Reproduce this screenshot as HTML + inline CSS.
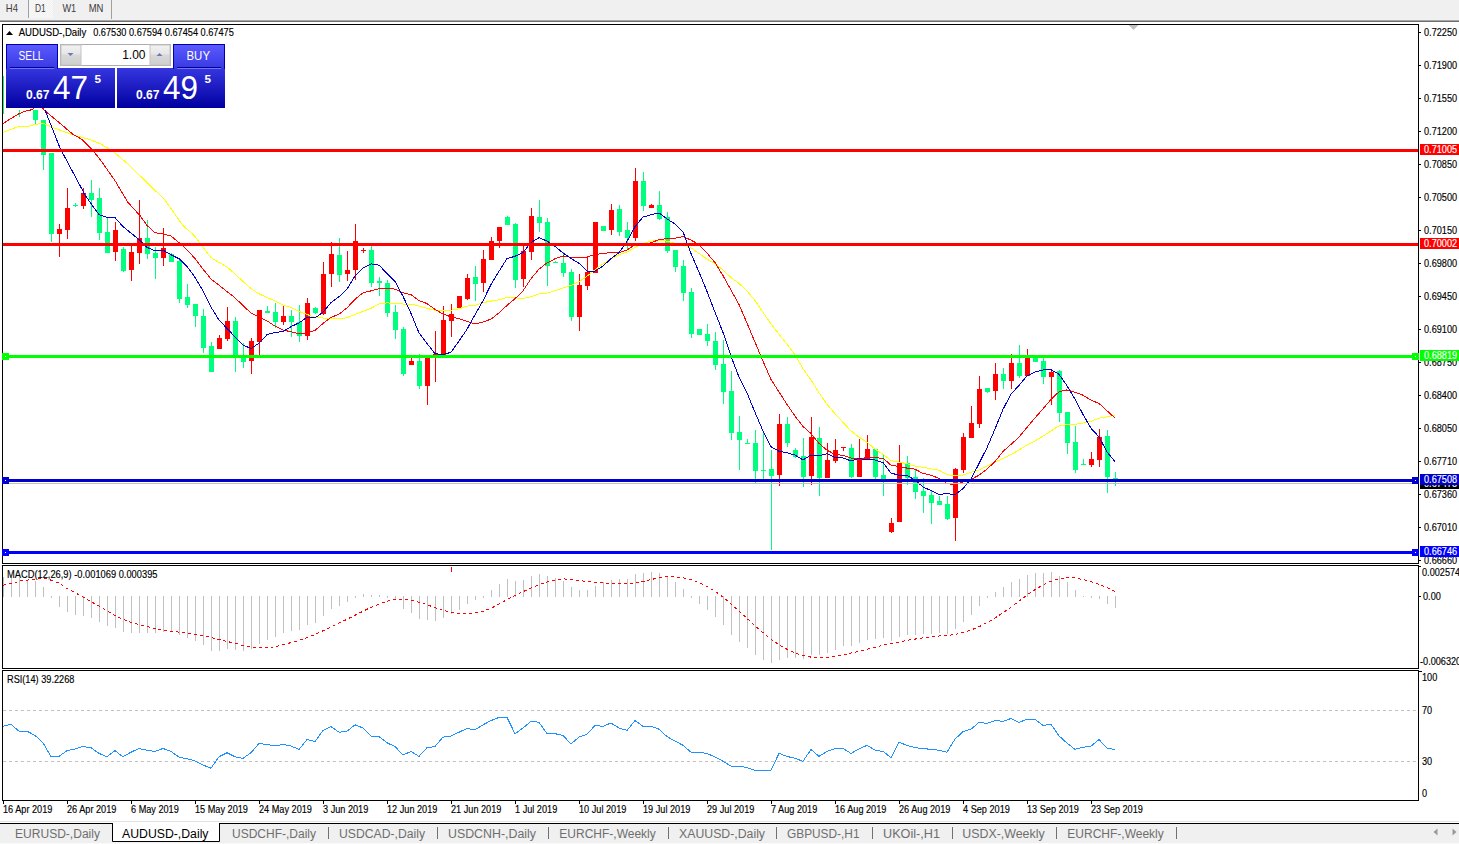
<!DOCTYPE html>
<html><head><meta charset="utf-8"><style>
html,body{margin:0;padding:0;background:#fff;width:1459px;height:844px;overflow:hidden}
svg{display:block}
text{font-family:"Liberation Sans", sans-serif}
</style></head><body>
<svg width="1459" height="844" viewBox="0 0 1459 844">
<defs>
<clipPath id="cm"><rect x="3" y="25" width="1415" height="538"/></clipPath>
<clipPath id="cmacd"><rect x="3" y="566" width="1415" height="102"/></clipPath>
<clipPath id="crsi"><rect x="3" y="671" width="1415" height="129"/></clipPath>
<linearGradient id="gTop" x1="0" y1="0" x2="0" y2="1"><stop offset="0" stop-color="#5a5aff"/><stop offset="1" stop-color="#3838e2"/></linearGradient>
<linearGradient id="gBig" x1="0" y1="0" x2="0" y2="1"><stop offset="0" stop-color="#3636e0"/><stop offset="1" stop-color="#0000a0"/></linearGradient>
<linearGradient id="gBtn" x1="0" y1="0" x2="0" y2="1"><stop offset="0" stop-color="#f2f2f2"/><stop offset="0.45" stop-color="#e6e6e6"/><stop offset="0.5" stop-color="#d8d8d8"/><stop offset="1" stop-color="#cfcfcf"/></linearGradient>
<pattern id="chk" width="2" height="2" patternUnits="userSpaceOnUse"><rect width="2" height="2" fill="#f0f0f0"/><rect width="1" height="1" fill="#fafafa"/><rect x="1" y="1" width="1" height="1" fill="#fafafa"/></pattern>
</defs>

<rect x="0" y="0" width="1459" height="20" fill="#f0f0f0"/>
<rect x="0" y="20" width="1459" height="1" fill="#a8a8a8"/><rect x="0" y="21" width="1459" height="1" fill="#6e6e6e"/>
<rect x="28" y="0" width="1" height="18" fill="#a0a0a0"/><rect x="111" y="0" width="1" height="19" fill="#a0a0a0"/>
<rect x="29" y="0" width="24" height="18" fill="url(#chk)"/>
<text x="5.8" y="12.2" font-size="10.3" fill="#3c3c3c" textLength="12.1" lengthAdjust="spacingAndGlyphs">H4</text>
<text x="35" y="12.2" font-size="10.3" fill="#3c3c3c" textLength="10.8" lengthAdjust="spacingAndGlyphs">D1</text>
<text x="62.4" y="12.2" font-size="10.3" fill="#3c3c3c" textLength="13.8" lengthAdjust="spacingAndGlyphs">W1</text>
<text x="88.7" y="12.2" font-size="10.3" fill="#3c3c3c" textLength="14.7" lengthAdjust="spacingAndGlyphs">MN</text>
<rect x="2.5" y="24.5" width="1416" height="539" fill="#fff" stroke="#000" stroke-width="1"/>
<rect x="2.5" y="565.5" width="1416" height="103" fill="#fff" stroke="#000" stroke-width="1"/>
<rect x="2.5" y="670.5" width="1416" height="130" fill="#fff" stroke="#000" stroke-width="1"/>
<g clip-path="url(#cm)">
<rect x="3" y="76" width="1" height="38" fill="#00ff7f"/>
<rect x="19" y="110" width="1" height="7" fill="#00ff7f"/>
<rect x="35" y="110" width="1" height="14" fill="#00ff7f"/>
<rect x="33" y="110" width="5" height="10" fill="#00ff7f"/>
<rect x="43" y="120" width="1" height="50" fill="#00ff7f"/>
<rect x="41" y="120" width="5" height="35" fill="#00ff7f"/>
<rect x="51" y="153" width="1" height="89" fill="#00ff7f"/>
<rect x="49" y="153" width="5" height="81" fill="#00ff7f"/>
<rect x="59" y="224" width="1" height="33" fill="#ff0000"/>
<rect x="57" y="229" width="5" height="5" fill="#ff0000"/>
<rect x="67" y="188" width="1" height="51" fill="#ff0000"/>
<rect x="65" y="208" width="5" height="22" fill="#ff0000"/>
<rect x="75" y="203" width="1" height="4" fill="#00ff7f"/>
<rect x="73" y="205" width="5" height="1" fill="#00ff7f"/>
<rect x="83" y="188" width="1" height="21" fill="#ff0000"/>
<rect x="81" y="193" width="5" height="13" fill="#ff0000"/>
<rect x="91" y="180" width="1" height="37" fill="#00ff7f"/>
<rect x="89" y="193" width="5" height="7" fill="#00ff7f"/>
<rect x="99" y="188" width="1" height="52" fill="#00ff7f"/>
<rect x="97" y="198" width="5" height="35" fill="#00ff7f"/>
<rect x="107" y="217" width="1" height="36" fill="#00ff7f"/>
<rect x="105" y="232" width="5" height="21" fill="#00ff7f"/>
<rect x="115" y="222" width="1" height="39" fill="#ff0000"/>
<rect x="113" y="230" width="5" height="22" fill="#ff0000"/>
<rect x="123" y="247" width="1" height="25" fill="#00ff7f"/>
<rect x="121" y="249" width="5" height="22" fill="#00ff7f"/>
<rect x="131" y="246" width="1" height="35" fill="#ff0000"/>
<rect x="129" y="252" width="5" height="18" fill="#ff0000"/>
<rect x="139" y="200" width="1" height="64" fill="#ff0000"/>
<rect x="137" y="238" width="5" height="15" fill="#ff0000"/>
<rect x="147" y="220" width="1" height="39" fill="#00ff7f"/>
<rect x="145" y="238" width="5" height="16" fill="#00ff7f"/>
<rect x="155" y="247" width="1" height="32" fill="#00ff7f"/>
<rect x="153" y="253" width="5" height="5" fill="#00ff7f"/>
<rect x="163" y="228" width="1" height="38" fill="#ff0000"/>
<rect x="161" y="248" width="5" height="10" fill="#ff0000"/>
<rect x="171" y="253" width="1" height="9" fill="#00ff7f"/>
<rect x="169" y="254" width="5" height="8" fill="#00ff7f"/>
<rect x="179" y="259" width="1" height="44" fill="#00ff7f"/>
<rect x="177" y="261" width="5" height="38" fill="#00ff7f"/>
<rect x="187" y="284" width="1" height="24" fill="#00ff7f"/>
<rect x="185" y="297" width="5" height="8" fill="#00ff7f"/>
<rect x="195" y="304" width="1" height="23" fill="#00ff7f"/>
<rect x="193" y="304" width="5" height="12" fill="#00ff7f"/>
<rect x="203" y="309" width="1" height="44" fill="#00ff7f"/>
<rect x="201" y="316" width="5" height="32" fill="#00ff7f"/>
<rect x="211" y="342" width="1" height="30" fill="#00ff7f"/>
<rect x="209" y="346" width="5" height="26" fill="#00ff7f"/>
<rect x="219" y="335" width="1" height="14" fill="#ff0000"/>
<rect x="217" y="338" width="5" height="11" fill="#ff0000"/>
<rect x="227" y="307" width="1" height="34" fill="#ff0000"/>
<rect x="225" y="321" width="5" height="18" fill="#ff0000"/>
<rect x="235" y="317" width="1" height="55" fill="#00ff7f"/>
<rect x="233" y="321" width="5" height="37" fill="#00ff7f"/>
<rect x="243" y="343" width="1" height="25" fill="#00ff7f"/>
<rect x="241" y="357" width="5" height="5" fill="#00ff7f"/>
<rect x="251" y="338" width="1" height="36" fill="#ff0000"/>
<rect x="249" y="341" width="5" height="20" fill="#ff0000"/>
<rect x="259" y="310" width="1" height="45" fill="#ff0000"/>
<rect x="257" y="310" width="5" height="32" fill="#ff0000"/>
<rect x="267" y="306" width="1" height="7" fill="#00ff7f"/>
<rect x="265" y="311" width="5" height="2" fill="#00ff7f"/>
<rect x="275" y="303" width="1" height="25" fill="#00ff7f"/>
<rect x="273" y="312" width="5" height="10" fill="#00ff7f"/>
<rect x="283" y="306" width="1" height="19" fill="#ff0000"/>
<rect x="281" y="316" width="5" height="6" fill="#ff0000"/>
<rect x="291" y="310" width="1" height="27" fill="#00ff7f"/>
<rect x="289" y="316" width="5" height="6" fill="#00ff7f"/>
<rect x="299" y="305" width="1" height="37" fill="#00ff7f"/>
<rect x="297" y="322" width="5" height="14" fill="#00ff7f"/>
<rect x="307" y="298" width="1" height="42" fill="#ff0000"/>
<rect x="305" y="303" width="5" height="33" fill="#ff0000"/>
<rect x="315" y="307" width="1" height="7" fill="#00ff7f"/>
<rect x="313" y="308" width="5" height="5" fill="#00ff7f"/>
<rect x="323" y="262" width="1" height="53" fill="#ff0000"/>
<rect x="321" y="274" width="5" height="40" fill="#ff0000"/>
<rect x="331" y="242" width="1" height="45" fill="#ff0000"/>
<rect x="329" y="254" width="5" height="20" fill="#ff0000"/>
<rect x="339" y="238" width="1" height="44" fill="#00ff7f"/>
<rect x="337" y="255" width="5" height="20" fill="#00ff7f"/>
<rect x="347" y="251" width="1" height="30" fill="#ff0000"/>
<rect x="345" y="270" width="5" height="4" fill="#ff0000"/>
<rect x="355" y="224" width="1" height="56" fill="#ff0000"/>
<rect x="353" y="241" width="5" height="29" fill="#ff0000"/>
<rect x="363" y="248" width="1" height="5" fill="#ff0000"/>
<rect x="361" y="250" width="5" height="1" fill="#ff0000"/>
<rect x="371" y="246" width="1" height="41" fill="#00ff7f"/>
<rect x="369" y="250" width="5" height="33" fill="#00ff7f"/>
<rect x="379" y="277" width="1" height="19" fill="#00ff7f"/>
<rect x="377" y="281" width="5" height="2" fill="#00ff7f"/>
<rect x="387" y="280" width="1" height="37" fill="#00ff7f"/>
<rect x="385" y="283" width="5" height="30" fill="#00ff7f"/>
<rect x="395" y="305" width="1" height="34" fill="#00ff7f"/>
<rect x="393" y="312" width="5" height="18" fill="#00ff7f"/>
<rect x="403" y="327" width="1" height="49" fill="#00ff7f"/>
<rect x="401" y="329" width="5" height="45" fill="#00ff7f"/>
<rect x="411" y="358" width="1" height="7" fill="#ff0000"/>
<rect x="409" y="361" width="5" height="4" fill="#ff0000"/>
<rect x="419" y="354" width="1" height="35" fill="#00ff7f"/>
<rect x="417" y="361" width="5" height="25" fill="#00ff7f"/>
<rect x="427" y="357" width="1" height="48" fill="#ff0000"/>
<rect x="425" y="357" width="5" height="29" fill="#ff0000"/>
<rect x="435" y="331" width="1" height="51" fill="#ff0000"/>
<rect x="433" y="354" width="5" height="1" fill="#ff0000"/>
<rect x="443" y="306" width="1" height="52" fill="#ff0000"/>
<rect x="441" y="320" width="5" height="35" fill="#ff0000"/>
<rect x="451" y="304" width="1" height="33" fill="#ff0000"/>
<rect x="449" y="314" width="5" height="7" fill="#ff0000"/>
<rect x="459" y="296" width="1" height="12" fill="#ff0000"/>
<rect x="457" y="296" width="5" height="12" fill="#ff0000"/>
<rect x="467" y="274" width="1" height="26" fill="#ff0000"/>
<rect x="465" y="278" width="5" height="21" fill="#ff0000"/>
<rect x="475" y="266" width="1" height="35" fill="#00ff7f"/>
<rect x="473" y="277" width="5" height="7" fill="#00ff7f"/>
<rect x="483" y="250" width="1" height="42" fill="#ff0000"/>
<rect x="481" y="259" width="5" height="24" fill="#ff0000"/>
<rect x="491" y="237" width="1" height="23" fill="#ff0000"/>
<rect x="489" y="241" width="5" height="19" fill="#ff0000"/>
<rect x="499" y="227" width="1" height="21" fill="#ff0000"/>
<rect x="497" y="227" width="5" height="14" fill="#ff0000"/>
<rect x="507" y="216" width="1" height="9" fill="#00ff7f"/>
<rect x="505" y="217" width="5" height="8" fill="#00ff7f"/>
<rect x="515" y="223" width="1" height="65" fill="#00ff7f"/>
<rect x="513" y="224" width="5" height="56" fill="#00ff7f"/>
<rect x="523" y="245" width="1" height="42" fill="#ff0000"/>
<rect x="521" y="251" width="5" height="28" fill="#ff0000"/>
<rect x="531" y="208" width="1" height="52" fill="#ff0000"/>
<rect x="529" y="216" width="5" height="36" fill="#ff0000"/>
<rect x="539" y="200" width="1" height="32" fill="#00ff7f"/>
<rect x="537" y="217" width="5" height="6" fill="#00ff7f"/>
<rect x="547" y="218" width="1" height="68" fill="#00ff7f"/>
<rect x="545" y="222" width="5" height="44" fill="#00ff7f"/>
<rect x="555" y="261" width="1" height="2" fill="#00ff7f"/>
<rect x="553" y="262" width="5" height="1" fill="#00ff7f"/>
<rect x="563" y="252" width="1" height="25" fill="#00ff7f"/>
<rect x="561" y="263" width="5" height="10" fill="#00ff7f"/>
<rect x="571" y="269" width="1" height="52" fill="#00ff7f"/>
<rect x="569" y="272" width="5" height="45" fill="#00ff7f"/>
<rect x="579" y="274" width="1" height="57" fill="#ff0000"/>
<rect x="577" y="285" width="5" height="32" fill="#ff0000"/>
<rect x="587" y="257" width="1" height="33" fill="#ff0000"/>
<rect x="585" y="272" width="5" height="14" fill="#ff0000"/>
<rect x="595" y="222" width="1" height="51" fill="#ff0000"/>
<rect x="593" y="222" width="5" height="51" fill="#ff0000"/>
<rect x="603" y="226" width="1" height="5" fill="#00ff7f"/>
<rect x="601" y="226" width="5" height="5" fill="#00ff7f"/>
<rect x="611" y="204" width="1" height="31" fill="#ff0000"/>
<rect x="609" y="210" width="5" height="20" fill="#ff0000"/>
<rect x="619" y="205" width="1" height="31" fill="#00ff7f"/>
<rect x="617" y="209" width="5" height="23" fill="#00ff7f"/>
<rect x="627" y="222" width="1" height="27" fill="#00ff7f"/>
<rect x="625" y="230" width="5" height="8" fill="#00ff7f"/>
<rect x="635" y="168" width="1" height="73" fill="#ff0000"/>
<rect x="633" y="181" width="5" height="57" fill="#ff0000"/>
<rect x="643" y="172" width="1" height="39" fill="#00ff7f"/>
<rect x="641" y="181" width="5" height="25" fill="#00ff7f"/>
<rect x="651" y="204" width="1" height="4" fill="#ff0000"/>
<rect x="649" y="205" width="5" height="3" fill="#ff0000"/>
<rect x="659" y="191" width="1" height="29" fill="#00ff7f"/>
<rect x="657" y="205" width="5" height="14" fill="#00ff7f"/>
<rect x="667" y="212" width="1" height="41" fill="#00ff7f"/>
<rect x="665" y="217" width="5" height="34" fill="#00ff7f"/>
<rect x="675" y="250" width="1" height="22" fill="#00ff7f"/>
<rect x="673" y="250" width="5" height="17" fill="#00ff7f"/>
<rect x="683" y="260" width="1" height="41" fill="#00ff7f"/>
<rect x="681" y="266" width="5" height="27" fill="#00ff7f"/>
<rect x="691" y="288" width="1" height="50" fill="#00ff7f"/>
<rect x="689" y="292" width="5" height="42" fill="#00ff7f"/>
<rect x="699" y="329" width="1" height="6" fill="#00ff7f"/>
<rect x="697" y="329" width="5" height="6" fill="#00ff7f"/>
<rect x="707" y="324" width="1" height="22" fill="#00ff7f"/>
<rect x="705" y="334" width="5" height="7" fill="#00ff7f"/>
<rect x="715" y="332" width="1" height="38" fill="#00ff7f"/>
<rect x="713" y="341" width="5" height="24" fill="#00ff7f"/>
<rect x="723" y="340" width="1" height="64" fill="#00ff7f"/>
<rect x="721" y="364" width="5" height="28" fill="#00ff7f"/>
<rect x="731" y="371" width="1" height="69" fill="#00ff7f"/>
<rect x="729" y="391" width="5" height="42" fill="#00ff7f"/>
<rect x="739" y="416" width="1" height="54" fill="#00ff7f"/>
<rect x="737" y="432" width="5" height="8" fill="#00ff7f"/>
<rect x="747" y="439" width="1" height="5" fill="#00ff7f"/>
<rect x="745" y="443" width="5" height="1" fill="#00ff7f"/>
<rect x="755" y="430" width="1" height="54" fill="#00ff7f"/>
<rect x="753" y="443" width="5" height="28" fill="#00ff7f"/>
<rect x="763" y="433" width="1" height="46" fill="#00ff7f"/>
<rect x="761" y="470" width="5" height="1" fill="#00ff7f"/>
<rect x="771" y="450" width="1" height="100" fill="#00ff7f"/>
<rect x="769" y="469" width="5" height="7" fill="#00ff7f"/>
<rect x="779" y="414" width="1" height="72" fill="#ff0000"/>
<rect x="777" y="424" width="5" height="51" fill="#ff0000"/>
<rect x="787" y="417" width="1" height="30" fill="#00ff7f"/>
<rect x="785" y="424" width="5" height="19" fill="#00ff7f"/>
<rect x="795" y="448" width="1" height="10" fill="#00ff7f"/>
<rect x="793" y="450" width="5" height="7" fill="#00ff7f"/>
<rect x="803" y="438" width="1" height="49" fill="#00ff7f"/>
<rect x="801" y="456" width="5" height="21" fill="#00ff7f"/>
<rect x="811" y="417" width="1" height="68" fill="#ff0000"/>
<rect x="809" y="437" width="5" height="39" fill="#ff0000"/>
<rect x="819" y="427" width="1" height="69" fill="#00ff7f"/>
<rect x="817" y="438" width="5" height="40" fill="#00ff7f"/>
<rect x="827" y="443" width="1" height="35" fill="#ff0000"/>
<rect x="825" y="460" width="5" height="18" fill="#ff0000"/>
<rect x="835" y="439" width="1" height="24" fill="#ff0000"/>
<rect x="833" y="450" width="5" height="11" fill="#ff0000"/>
<rect x="843" y="447" width="1" height="4" fill="#ff0000"/>
<rect x="841" y="447" width="5" height="1" fill="#ff0000"/>
<rect x="851" y="444" width="1" height="34" fill="#00ff7f"/>
<rect x="849" y="448" width="5" height="29" fill="#00ff7f"/>
<rect x="859" y="439" width="1" height="38" fill="#ff0000"/>
<rect x="857" y="459" width="5" height="18" fill="#ff0000"/>
<rect x="867" y="435" width="1" height="25" fill="#ff0000"/>
<rect x="865" y="449" width="5" height="11" fill="#ff0000"/>
<rect x="875" y="449" width="1" height="30" fill="#00ff7f"/>
<rect x="873" y="449" width="5" height="28" fill="#00ff7f"/>
<rect x="883" y="455" width="1" height="41" fill="#00ff7f"/>
<rect x="881" y="475" width="5" height="4" fill="#00ff7f"/>
<rect x="891" y="518" width="1" height="15" fill="#ff0000"/>
<rect x="889" y="523" width="5" height="9" fill="#ff0000"/>
<rect x="899" y="445" width="1" height="77" fill="#ff0000"/>
<rect x="897" y="463" width="5" height="59" fill="#ff0000"/>
<rect x="907" y="456" width="1" height="29" fill="#00ff7f"/>
<rect x="905" y="463" width="5" height="15" fill="#00ff7f"/>
<rect x="915" y="470" width="1" height="29" fill="#00ff7f"/>
<rect x="913" y="477" width="5" height="15" fill="#00ff7f"/>
<rect x="923" y="478" width="1" height="35" fill="#00ff7f"/>
<rect x="921" y="491" width="5" height="5" fill="#00ff7f"/>
<rect x="931" y="491" width="1" height="33" fill="#00ff7f"/>
<rect x="929" y="495" width="5" height="8" fill="#00ff7f"/>
<rect x="939" y="496" width="1" height="9" fill="#00ff7f"/>
<rect x="937" y="501" width="5" height="4" fill="#00ff7f"/>
<rect x="947" y="496" width="1" height="24" fill="#00ff7f"/>
<rect x="945" y="504" width="5" height="15" fill="#00ff7f"/>
<rect x="955" y="468" width="1" height="73" fill="#ff0000"/>
<rect x="953" y="469" width="5" height="49" fill="#ff0000"/>
<rect x="963" y="433" width="1" height="40" fill="#ff0000"/>
<rect x="961" y="437" width="5" height="33" fill="#ff0000"/>
<rect x="971" y="406" width="1" height="32" fill="#ff0000"/>
<rect x="969" y="423" width="5" height="15" fill="#ff0000"/>
<rect x="979" y="376" width="1" height="52" fill="#ff0000"/>
<rect x="977" y="389" width="5" height="35" fill="#ff0000"/>
<rect x="987" y="388" width="1" height="5" fill="#00ff7f"/>
<rect x="985" y="388" width="5" height="4" fill="#00ff7f"/>
<rect x="995" y="363" width="1" height="37" fill="#ff0000"/>
<rect x="993" y="374" width="5" height="17" fill="#ff0000"/>
<rect x="1003" y="368" width="1" height="21" fill="#00ff7f"/>
<rect x="1001" y="374" width="5" height="7" fill="#00ff7f"/>
<rect x="1011" y="354" width="1" height="35" fill="#ff0000"/>
<rect x="1009" y="363" width="5" height="18" fill="#ff0000"/>
<rect x="1019" y="345" width="1" height="33" fill="#00ff7f"/>
<rect x="1017" y="363" width="5" height="13" fill="#00ff7f"/>
<rect x="1027" y="349" width="1" height="27" fill="#ff0000"/>
<rect x="1025" y="357" width="5" height="19" fill="#ff0000"/>
<rect x="1035" y="357" width="1" height="5" fill="#00ff7f"/>
<rect x="1033" y="358" width="5" height="4" fill="#00ff7f"/>
<rect x="1043" y="357" width="1" height="27" fill="#00ff7f"/>
<rect x="1041" y="361" width="5" height="16" fill="#00ff7f"/>
<rect x="1051" y="369" width="1" height="36" fill="#ff0000"/>
<rect x="1049" y="372" width="5" height="5" fill="#ff0000"/>
<rect x="1059" y="370" width="1" height="52" fill="#00ff7f"/>
<rect x="1057" y="371" width="5" height="42" fill="#00ff7f"/>
<rect x="1067" y="412" width="1" height="42" fill="#00ff7f"/>
<rect x="1065" y="412" width="5" height="31" fill="#00ff7f"/>
<rect x="1075" y="426" width="1" height="47" fill="#00ff7f"/>
<rect x="1073" y="442" width="5" height="28" fill="#00ff7f"/>
<rect x="1083" y="459" width="1" height="5" fill="#00ff7f"/>
<rect x="1081" y="464" width="5" height="1" fill="#00ff7f"/>
<rect x="1091" y="452" width="1" height="15" fill="#ff0000"/>
<rect x="1089" y="459" width="5" height="6" fill="#ff0000"/>
<rect x="1099" y="429" width="1" height="38" fill="#ff0000"/>
<rect x="1097" y="437" width="5" height="23" fill="#ff0000"/>
<rect x="1107" y="430" width="1" height="63" fill="#00ff7f"/>
<rect x="1105" y="436" width="5" height="41" fill="#00ff7f"/>
<rect x="1115" y="472" width="1" height="14" fill="#00ff7f"/>
<rect x="1113" y="478" width="5" height="4" fill="#00ff7f"/>
<polyline points="3.0,132.5 17.0,127.0 28.0,126.5 33.0,125.0 40.0,123.5 45.0,124.0 53.3,127.7 70.4,134.0 89.6,139.5 100.3,143.7 113.0,151.2 128.0,164.0 164.9,200.0 183.0,225.6 195.0,236.4 203.0,247.2 211.0,257.6 219.0,262.5 227.0,266.9 235.0,274.0 243.0,281.5 251.0,288.5 259.0,293.8 267.0,297.6 275.0,300.9 283.0,305.0 291.0,307.4 299.0,311.4 307.0,314.5 315.0,317.3 323.0,318.0 331.0,318.3 339.0,319.0 347.0,317.6 355.0,314.5 363.0,311.4 371.0,308.3 379.0,304.0 387.0,302.9 395.0,303.3 403.0,304.0 411.0,304.0 419.0,306.1 427.0,308.4 435.0,310.3 443.0,310.2 451.0,310.1 459.0,308.9 467.0,306.1 475.0,305.2 483.0,302.7 491.0,301.1 499.0,299.8 507.0,297.4 515.0,297.9 523.0,298.4 531.0,296.8 539.0,293.9 547.0,293.1 555.0,290.7 563.0,288.0 571.0,285.3 579.0,281.7 587.0,276.2 595.0,269.8 603.0,264.0 611.0,258.7 619.0,254.8 627.0,252.0 635.0,247.4 643.0,243.7 651.0,241.1 659.0,240.1 667.0,241.2 675.0,243.2 683.0,243.9 691.0,247.8 699.0,253.5 707.0,259.1 715.0,263.8 723.0,270.0 731.0,277.6 739.0,283.4 747.0,291.0 755.0,300.5 763.0,312.3 771.0,324.0 779.0,334.2 787.0,344.2 795.0,354.7 803.0,368.8 811.0,379.8 819.0,392.8 827.0,404.2 835.0,413.7 843.0,422.3 851.0,431.0 859.0,437.0 867.0,442.4 875.0,448.9 883.0,454.3 891.0,460.6 899.0,462.0 907.0,463.8 915.0,466.1 923.0,467.3 931.0,468.8 939.0,470.2 947.0,474.7 955.0,476.0 963.0,475.0 971.0,472.4 979.0,470.1 987.0,466.0 995.0,462.0 1003.0,458.7 1011.0,454.7 1019.0,449.9 1027.0,445.0 1035.0,440.9 1043.0,436.1 1051.0,431.0 1059.0,425.8 1067.0,424.8 1075.0,424.4 1083.0,423.1 1091.0,421.3 1099.0,418.2 1107.0,416.9 1115.0,415.1" fill="none" stroke="#ffff00" stroke-width="1" shape-rendering="crispEdges"/>
<polyline points="3.0,123.5 11.0,118.5 19.4,113.5 27.0,110.5 32.0,109.8 36.0,106.0 41.0,106.0 44.0,110.0 64.0,126.7 72.5,134.0 82.1,139.5 91.7,149.0 100.3,159.7 115.2,181.0 128.0,202.4 140.3,216.0 147.0,225.4 155.0,232.8 163.0,233.8 171.0,236.1 179.0,242.6 187.0,249.7 195.0,258.5 203.0,269.1 211.0,279.0 219.0,285.1 227.0,291.6 235.0,297.8 243.0,305.6 251.0,313.0 259.0,317.0 267.0,320.9 275.0,326.2 283.0,330.1 291.0,331.7 299.0,333.9 307.0,333.0 315.0,330.5 323.0,323.5 331.0,317.5 339.0,314.2 347.0,307.9 355.0,299.3 363.0,292.8 371.0,290.9 379.0,288.7 387.0,288.1 395.0,289.1 403.0,292.8 411.0,294.6 419.0,300.5 427.0,303.6 435.0,309.4 443.0,314.1 451.0,316.9 459.0,318.7 467.0,321.4 475.0,323.8 483.0,322.1 491.0,319.1 499.0,312.9 507.0,305.4 515.0,298.7 523.0,290.9 531.0,278.7 539.0,269.1 547.0,262.9 555.0,258.8 563.0,255.9 571.0,257.4 579.0,257.9 587.0,257.0 595.0,254.4 603.0,253.6 611.0,252.4 619.0,252.9 627.0,249.9 635.0,244.9 643.0,244.2 651.0,242.9 659.0,239.6 667.0,238.7 675.0,238.3 683.0,236.6 691.0,240.1 699.0,244.6 707.0,253.1 715.0,262.6 723.0,275.6 731.0,290.0 739.0,304.4 747.0,323.2 755.0,342.1 763.0,361.1 771.0,379.5 779.0,391.9 787.0,404.4 795.0,416.1 803.0,426.4 811.0,433.6 819.0,443.4 827.0,450.2 835.0,454.4 843.0,455.4 851.0,458.0 859.0,459.1 867.0,457.5 875.0,457.9 883.0,458.1 891.0,465.2 899.0,466.6 907.0,468.1 915.0,469.2 923.0,473.4 931.0,475.2 939.0,478.4 947.0,483.4 955.0,484.9 963.0,482.1 971.0,479.5 979.0,475.2 987.0,469.1 995.0,461.6 1003.0,451.5 1011.0,444.4 1019.0,437.1 1027.0,427.4 1035.0,417.9 1043.0,408.9 1051.0,399.4 1059.0,391.8 1067.0,389.9 1075.0,392.3 1083.0,395.2 1091.0,400.2 1099.0,403.4 1107.0,410.8 1115.0,418.0" fill="none" stroke="#ff0000" stroke-width="1" shape-rendering="crispEdges"/>
<polyline points="45.0,110.0 60.0,148.0 84.0,193.0 83.0,192.1 91.0,203.6 99.0,214.7 107.0,217.4 115.0,217.6 123.0,226.6 131.0,233.1 139.0,239.6 147.0,247.3 155.0,250.9 163.0,250.1 171.0,254.7 179.0,258.7 187.0,266.3 195.0,277.4 203.0,290.9 211.0,307.1 219.0,320.0 227.0,328.4 235.0,336.9 243.0,345.0 251.0,348.6 259.0,343.1 267.0,334.7 275.0,332.4 283.0,331.7 291.0,326.6 299.0,322.9 307.0,317.4 315.0,317.9 323.0,312.3 331.0,302.6 339.0,296.7 347.0,289.3 355.0,275.7 363.0,268.1 371.0,263.9 379.0,265.1 387.0,273.6 395.0,281.4 403.0,296.3 411.0,313.4 419.0,332.9 427.0,343.4 435.0,353.6 443.0,354.6 451.0,352.3 459.0,341.1 467.0,329.3 475.0,314.7 483.0,300.7 491.0,284.6 499.0,271.3 507.0,258.6 515.0,256.3 523.0,252.4 531.0,242.7 539.0,237.6 547.0,241.1 555.0,246.3 563.0,253.1 571.0,258.4 579.0,263.3 587.0,271.3 595.0,271.1 603.0,266.1 611.0,258.6 619.0,252.7 627.0,241.4 635.0,226.6 643.0,217.1 651.0,214.7 659.0,213.0 667.0,218.9 675.0,223.9 683.0,231.7 691.0,253.6 699.0,272.0 707.0,291.4 715.0,312.3 723.0,332.4 731.0,356.1 739.0,377.1 747.0,392.9 755.0,412.3 763.0,430.9 771.0,446.7 779.0,451.3 787.0,452.7 795.0,455.1 803.0,459.9 811.0,455.0 819.0,456.0 827.0,453.7 835.0,457.4 843.0,458.0 851.0,460.9 859.0,458.3 867.0,460.0 875.0,459.9 883.0,462.6 891.0,473.0 899.0,475.3 907.0,475.4 915.0,480.1 923.0,486.9 931.0,490.6 939.0,494.3 947.0,493.7 955.0,494.6 963.0,488.7 971.0,478.9 979.0,463.6 987.0,447.7 995.0,429.0 1003.0,409.3 1011.0,394.1 1019.0,385.4 1027.0,376.0 1035.0,372.1 1043.0,370.0 1051.0,369.7 1059.0,374.3 1067.0,385.7 1075.0,399.1 1083.0,414.4 1091.0,428.3 1099.0,436.9 1107.0,451.9 1115.0,461.7" fill="none" stroke="#0000cd" stroke-width="1" shape-rendering="crispEdges"/>
<rect x="3" y="149" width="1415" height="3" fill="#ff0000"/>
<rect x="3" y="243" width="1415" height="3" fill="#ff0000"/>
<rect x="3" y="355" width="1415" height="3" fill="#00ff00"/>
<rect x="3" y="483" width="1415" height="1" fill="#c0c0c0"/>
<rect x="3" y="479" width="1415" height="3" fill="#0000cd"/>
<rect x="3" y="551" width="1415" height="3" fill="#0000ff"/>
</g>
<rect x="2" y="353" width="7" height="7" fill="#00ff00"/><rect x="5" y="356" width="1" height="1" fill="#fff"/>
<rect x="1412" y="353" width="7" height="7" fill="#00ff00"/><rect x="1415" y="356" width="1" height="1" fill="#fff"/>
<rect x="2" y="477" width="7" height="7" fill="#0000cd"/><rect x="5" y="480" width="1" height="1" fill="#fff"/>
<rect x="1412" y="477" width="7" height="7" fill="#0000cd"/><rect x="1415" y="480" width="1" height="1" fill="#fff"/>
<rect x="2" y="549" width="7" height="7" fill="#0000ff"/><rect x="5" y="552" width="1" height="1" fill="#fff"/>
<rect x="1412" y="549" width="7" height="7" fill="#0000ff"/><rect x="1415" y="552" width="1" height="1" fill="#fff"/>
<path d="M1128.5,25 L1138.5,25 L1133.5,30 Z" fill="#c0c0c0"/>
<path d="M6,35 L13,35 L9.5,31 Z" fill="#000"/>
<text x="18.7" y="36" font-size="10.2" fill="#000" stroke="#000" stroke-width="0.15" textLength="67.50" lengthAdjust="spacingAndGlyphs" >AUDUSD-,Daily</text>
<text x="93.2" y="36" font-size="10.2" fill="#000" stroke="#000" stroke-width="0.15" textLength="140.60" lengthAdjust="spacingAndGlyphs" >0.67530 0.67594 0.67454 0.67475</text>
<rect x="6" y="68" width="109" height="40" fill="url(#gBig)"/>
<rect x="117" y="68" width="108" height="40" fill="url(#gBig)"/>
<rect x="6" y="44" width="52" height="25" fill="#0000a8"/>
<rect x="7" y="45" width="50" height="24" fill="url(#gTop)"/>
<rect x="10" y="67" width="44" height="1" fill="#000090"/>
<rect x="10" y="68" width="44" height="1" fill="#7474ff"/>
<rect x="173" y="44" width="52" height="25" fill="#0000a8"/>
<rect x="174" y="45" width="50" height="24" fill="url(#gTop)"/>
<rect x="177" y="67" width="44" height="1" fill="#000090"/>
<rect x="177" y="68" width="44" height="1" fill="#7474ff"/>
<text x="18.5" y="60" font-size="12.5" fill="#fff" textLength="25" lengthAdjust="spacingAndGlyphs">SELL</text>
<text x="186.5" y="60" font-size="12.5" fill="#fff" textLength="23.5" lengthAdjust="spacingAndGlyphs">BUY</text>
<rect x="60.5" y="44.5" width="110" height="21" fill="#fff" stroke="#adadad"/>
<rect x="61" y="45" width="20" height="20" fill="url(#gBtn)" stroke="#c4c4c4" stroke-width="1"/>
<rect x="150" y="45" width="20" height="20" fill="url(#gBtn)" stroke="#c4c4c4" stroke-width="1"/>
<path d="M67.5,53 L73.5,53 L70.5,56 Z" fill="#6a7ab8"/>
<path d="M156.5,56 L162.5,56 L159.5,53 Z" fill="#6a7ab8"/>
<text x="145.5" y="59" font-size="12" fill="#000" text-anchor="end">1.00</text>
<text x="26" y="99" font-size="12" font-weight="bold" fill="#fff" textLength="23.5" lengthAdjust="spacingAndGlyphs">0.67</text>
<text x="53" y="98.5" font-size="34" fill="#fff" textLength="35" lengthAdjust="spacingAndGlyphs">47</text>
<text x="94.5" y="83" font-size="11" font-weight="bold" fill="#fff" textLength="6.5" lengthAdjust="spacingAndGlyphs">5</text>
<text x="136" y="99" font-size="12" font-weight="bold" fill="#fff" textLength="23.5" lengthAdjust="spacingAndGlyphs">0.67</text>
<text x="163" y="98.5" font-size="34" fill="#fff" textLength="35" lengthAdjust="spacingAndGlyphs">49</text>
<text x="204.5" y="83" font-size="11" font-weight="bold" fill="#fff" textLength="6.5" lengthAdjust="spacingAndGlyphs">5</text>
<rect x="1419" y="32" width="2" height="1" fill="#000"/>
<text x="1424" y="36" font-size="10.2" fill="#000" stroke="#000" stroke-width="0.15" textLength="33.07" lengthAdjust="spacingAndGlyphs" >0.72250</text>
<rect x="1419" y="65" width="2" height="1" fill="#000"/>
<text x="1424" y="69" font-size="10.2" fill="#000" stroke="#000" stroke-width="0.15" textLength="33.07" lengthAdjust="spacingAndGlyphs" >0.71900</text>
<rect x="1419" y="98" width="2" height="1" fill="#000"/>
<text x="1424" y="102" font-size="10.2" fill="#000" stroke="#000" stroke-width="0.15" textLength="33.07" lengthAdjust="spacingAndGlyphs" >0.71550</text>
<rect x="1419" y="131" width="2" height="1" fill="#000"/>
<text x="1424" y="135" font-size="10.2" fill="#000" stroke="#000" stroke-width="0.15" textLength="33.07" lengthAdjust="spacingAndGlyphs" >0.71200</text>
<rect x="1419" y="164" width="2" height="1" fill="#000"/>
<text x="1424" y="168" font-size="10.2" fill="#000" stroke="#000" stroke-width="0.15" textLength="33.07" lengthAdjust="spacingAndGlyphs" >0.70850</text>
<rect x="1419" y="197" width="2" height="1" fill="#000"/>
<text x="1424" y="201" font-size="10.2" fill="#000" stroke="#000" stroke-width="0.15" textLength="33.07" lengthAdjust="spacingAndGlyphs" >0.70500</text>
<rect x="1419" y="230" width="2" height="1" fill="#000"/>
<text x="1424" y="234" font-size="10.2" fill="#000" stroke="#000" stroke-width="0.15" textLength="33.07" lengthAdjust="spacingAndGlyphs" >0.70150</text>
<rect x="1419" y="263" width="2" height="1" fill="#000"/>
<text x="1424" y="267" font-size="10.2" fill="#000" stroke="#000" stroke-width="0.15" textLength="33.07" lengthAdjust="spacingAndGlyphs" >0.69800</text>
<rect x="1419" y="296" width="2" height="1" fill="#000"/>
<text x="1424" y="300" font-size="10.2" fill="#000" stroke="#000" stroke-width="0.15" textLength="33.07" lengthAdjust="spacingAndGlyphs" >0.69450</text>
<rect x="1419" y="329" width="2" height="1" fill="#000"/>
<text x="1424" y="333" font-size="10.2" fill="#000" stroke="#000" stroke-width="0.15" textLength="33.07" lengthAdjust="spacingAndGlyphs" >0.69100</text>
<rect x="1419" y="362" width="2" height="1" fill="#000"/>
<text x="1424" y="366" font-size="10.2" fill="#000" stroke="#000" stroke-width="0.15" textLength="33.07" lengthAdjust="spacingAndGlyphs" >0.68750</text>
<rect x="1419" y="395" width="2" height="1" fill="#000"/>
<text x="1424" y="399" font-size="10.2" fill="#000" stroke="#000" stroke-width="0.15" textLength="33.07" lengthAdjust="spacingAndGlyphs" >0.68400</text>
<rect x="1419" y="428" width="2" height="1" fill="#000"/>
<text x="1424" y="432" font-size="10.2" fill="#000" stroke="#000" stroke-width="0.15" textLength="33.07" lengthAdjust="spacingAndGlyphs" >0.68050</text>
<rect x="1419" y="461" width="2" height="1" fill="#000"/>
<text x="1424" y="465" font-size="10.2" fill="#000" stroke="#000" stroke-width="0.15" textLength="33.07" lengthAdjust="spacingAndGlyphs" >0.67710</text>
<rect x="1419" y="494" width="2" height="1" fill="#000"/>
<text x="1424" y="498" font-size="10.2" fill="#000" stroke="#000" stroke-width="0.15" textLength="33.07" lengthAdjust="spacingAndGlyphs" >0.67360</text>
<rect x="1419" y="527" width="2" height="1" fill="#000"/>
<text x="1424" y="531" font-size="10.2" fill="#000" stroke="#000" stroke-width="0.15" textLength="33.07" lengthAdjust="spacingAndGlyphs" >0.67010</text>
<rect x="1419" y="560" width="2" height="1" fill="#000"/>
<text x="1424" y="564" font-size="10.2" fill="#000" stroke="#000" stroke-width="0.15" textLength="33.07" lengthAdjust="spacingAndGlyphs" >0.66660</text>
<rect x="1420" y="144" width="39" height="11" fill="#ff0000"/>
<text x="1424" y="153" font-size="10.2" fill="#fff" stroke="#fff" stroke-width="0.15" textLength="33.07" lengthAdjust="spacingAndGlyphs" >0.71005</text>
<rect x="1420" y="238" width="39" height="11" fill="#ff0000"/>
<text x="1424" y="247" font-size="10.2" fill="#fff" stroke="#fff" stroke-width="0.15" textLength="33.07" lengthAdjust="spacingAndGlyphs" >0.70002</text>
<rect x="1420" y="350" width="39" height="11" fill="#00ff00"/>
<text x="1424" y="359" font-size="10.2" fill="#fff" stroke="#fff" stroke-width="0.15" textLength="33.07" lengthAdjust="spacingAndGlyphs" >0.68819</text>
<rect x="1420" y="478" width="39" height="11" fill="#000000"/>
<text x="1424" y="487" font-size="10.2" fill="#fff" stroke="#fff" stroke-width="0.15" textLength="33.07" lengthAdjust="spacingAndGlyphs" >0.67475</text>
<rect x="1420" y="474" width="39" height="11" fill="#0000cd"/>
<text x="1424" y="483" font-size="10.2" fill="#fff" stroke="#fff" stroke-width="0.15" textLength="33.07" lengthAdjust="spacingAndGlyphs" >0.67508</text>
<rect x="1420" y="546" width="39" height="11" fill="#0000ff"/>
<text x="1424" y="555" font-size="10.2" fill="#fff" stroke="#fff" stroke-width="0.15" textLength="33.07" lengthAdjust="spacingAndGlyphs" >0.66746</text>
<g clip-path="url(#cmacd)">
<rect x="3" y="577" width="1" height="20" fill="#c0c0c0"/>
<rect x="11" y="577" width="1" height="20" fill="#c0c0c0"/>
<rect x="19" y="578" width="1" height="19" fill="#c0c0c0"/>
<rect x="27" y="580" width="1" height="17" fill="#c0c0c0"/>
<rect x="35" y="581" width="1" height="16" fill="#c0c0c0"/>
<rect x="43" y="587" width="1" height="10" fill="#c0c0c0"/>
<rect x="51" y="596" width="1" height="2" fill="#c0c0c0"/>
<rect x="59" y="596" width="1" height="11" fill="#c0c0c0"/>
<rect x="67" y="596" width="1" height="16" fill="#c0c0c0"/>
<rect x="75" y="596" width="1" height="19" fill="#c0c0c0"/>
<rect x="83" y="596" width="1" height="20" fill="#c0c0c0"/>
<rect x="91" y="596" width="1" height="22" fill="#c0c0c0"/>
<rect x="99" y="596" width="1" height="26" fill="#c0c0c0"/>
<rect x="107" y="596" width="1" height="30" fill="#c0c0c0"/>
<rect x="115" y="596" width="1" height="32" fill="#c0c0c0"/>
<rect x="123" y="596" width="1" height="36" fill="#c0c0c0"/>
<rect x="131" y="596" width="1" height="37" fill="#c0c0c0"/>
<rect x="139" y="596" width="1" height="37" fill="#c0c0c0"/>
<rect x="147" y="596" width="1" height="37" fill="#c0c0c0"/>
<rect x="155" y="596" width="1" height="37" fill="#c0c0c0"/>
<rect x="163" y="596" width="1" height="36" fill="#c0c0c0"/>
<rect x="171" y="596" width="1" height="35" fill="#c0c0c0"/>
<rect x="179" y="596" width="1" height="39" fill="#c0c0c0"/>
<rect x="187" y="596" width="1" height="42" fill="#c0c0c0"/>
<rect x="195" y="596" width="1" height="45" fill="#c0c0c0"/>
<rect x="203" y="596" width="1" height="49" fill="#c0c0c0"/>
<rect x="211" y="596" width="1" height="55" fill="#c0c0c0"/>
<rect x="219" y="596" width="1" height="55" fill="#c0c0c0"/>
<rect x="227" y="596" width="1" height="53" fill="#c0c0c0"/>
<rect x="235" y="596" width="1" height="54" fill="#c0c0c0"/>
<rect x="243" y="596" width="1" height="55" fill="#c0c0c0"/>
<rect x="251" y="596" width="1" height="53" fill="#c0c0c0"/>
<rect x="259" y="596" width="1" height="48" fill="#c0c0c0"/>
<rect x="267" y="596" width="1" height="44" fill="#c0c0c0"/>
<rect x="275" y="596" width="1" height="41" fill="#c0c0c0"/>
<rect x="283" y="596" width="1" height="37" fill="#c0c0c0"/>
<rect x="291" y="596" width="1" height="35" fill="#c0c0c0"/>
<rect x="299" y="596" width="1" height="34" fill="#c0c0c0"/>
<rect x="307" y="596" width="1" height="29" fill="#c0c0c0"/>
<rect x="315" y="596" width="1" height="27" fill="#c0c0c0"/>
<rect x="323" y="596" width="1" height="20" fill="#c0c0c0"/>
<rect x="331" y="596" width="1" height="13" fill="#c0c0c0"/>
<rect x="339" y="596" width="1" height="10" fill="#c0c0c0"/>
<rect x="347" y="596" width="1" height="6" fill="#c0c0c0"/>
<rect x="355" y="596" width="1" height="2" fill="#c0c0c0"/>
<rect x="363" y="594" width="1" height="3" fill="#c0c0c0"/>
<rect x="371" y="595" width="1" height="2" fill="#c0c0c0"/>
<rect x="379" y="595" width="1" height="2" fill="#c0c0c0"/>
<rect x="387" y="596" width="1" height="2" fill="#c0c0c0"/>
<rect x="395" y="596" width="1" height="4" fill="#c0c0c0"/>
<rect x="403" y="596" width="1" height="13" fill="#c0c0c0"/>
<rect x="411" y="596" width="1" height="17" fill="#c0c0c0"/>
<rect x="419" y="596" width="1" height="23" fill="#c0c0c0"/>
<rect x="427" y="596" width="1" height="24" fill="#c0c0c0"/>
<rect x="435" y="596" width="1" height="25" fill="#c0c0c0"/>
<rect x="443" y="596" width="1" height="22" fill="#c0c0c0"/>
<rect x="451" y="596" width="1" height="18" fill="#c0c0c0"/>
<rect x="459" y="596" width="1" height="14" fill="#c0c0c0"/>
<rect x="467" y="596" width="1" height="8" fill="#c0c0c0"/>
<rect x="475" y="596" width="1" height="4" fill="#c0c0c0"/>
<rect x="483" y="596" width="1" height="2" fill="#c0c0c0"/>
<rect x="491" y="590" width="1" height="7" fill="#c0c0c0"/>
<rect x="499" y="584" width="1" height="13" fill="#c0c0c0"/>
<rect x="507" y="579" width="1" height="18" fill="#c0c0c0"/>
<rect x="515" y="581" width="1" height="16" fill="#c0c0c0"/>
<rect x="523" y="580" width="1" height="17" fill="#c0c0c0"/>
<rect x="531" y="576" width="1" height="21" fill="#c0c0c0"/>
<rect x="539" y="574" width="1" height="23" fill="#c0c0c0"/>
<rect x="547" y="576" width="1" height="21" fill="#c0c0c0"/>
<rect x="555" y="578" width="1" height="19" fill="#c0c0c0"/>
<rect x="563" y="581" width="1" height="16" fill="#c0c0c0"/>
<rect x="571" y="587" width="1" height="10" fill="#c0c0c0"/>
<rect x="579" y="590" width="1" height="7" fill="#c0c0c0"/>
<rect x="587" y="590" width="1" height="7" fill="#c0c0c0"/>
<rect x="595" y="586" width="1" height="11" fill="#c0c0c0"/>
<rect x="603" y="582" width="1" height="15" fill="#c0c0c0"/>
<rect x="611" y="580" width="1" height="17" fill="#c0c0c0"/>
<rect x="619" y="579" width="1" height="18" fill="#c0c0c0"/>
<rect x="627" y="579" width="1" height="18" fill="#c0c0c0"/>
<rect x="635" y="574" width="1" height="23" fill="#c0c0c0"/>
<rect x="643" y="573" width="1" height="24" fill="#c0c0c0"/>
<rect x="651" y="572" width="1" height="25" fill="#c0c0c0"/>
<rect x="659" y="573" width="1" height="24" fill="#c0c0c0"/>
<rect x="667" y="577" width="1" height="20" fill="#c0c0c0"/>
<rect x="675" y="582" width="1" height="15" fill="#c0c0c0"/>
<rect x="683" y="589" width="1" height="8" fill="#c0c0c0"/>
<rect x="691" y="596" width="1" height="2" fill="#c0c0c0"/>
<rect x="699" y="596" width="1" height="8" fill="#c0c0c0"/>
<rect x="707" y="596" width="1" height="14" fill="#c0c0c0"/>
<rect x="715" y="596" width="1" height="21" fill="#c0c0c0"/>
<rect x="723" y="596" width="1" height="29" fill="#c0c0c0"/>
<rect x="731" y="596" width="1" height="39" fill="#c0c0c0"/>
<rect x="739" y="596" width="1" height="46" fill="#c0c0c0"/>
<rect x="747" y="596" width="1" height="52" fill="#c0c0c0"/>
<rect x="755" y="596" width="1" height="59" fill="#c0c0c0"/>
<rect x="763" y="596" width="1" height="64" fill="#c0c0c0"/>
<rect x="771" y="596" width="1" height="67" fill="#c0c0c0"/>
<rect x="779" y="596" width="1" height="64" fill="#c0c0c0"/>
<rect x="787" y="596" width="1" height="62" fill="#c0c0c0"/>
<rect x="795" y="596" width="1" height="62" fill="#c0c0c0"/>
<rect x="803" y="596" width="1" height="63" fill="#c0c0c0"/>
<rect x="811" y="596" width="1" height="59" fill="#c0c0c0"/>
<rect x="819" y="596" width="1" height="59" fill="#c0c0c0"/>
<rect x="827" y="596" width="1" height="57" fill="#c0c0c0"/>
<rect x="835" y="596" width="1" height="54" fill="#c0c0c0"/>
<rect x="843" y="596" width="1" height="50" fill="#c0c0c0"/>
<rect x="851" y="596" width="1" height="50" fill="#c0c0c0"/>
<rect x="859" y="596" width="1" height="47" fill="#c0c0c0"/>
<rect x="867" y="596" width="1" height="44" fill="#c0c0c0"/>
<rect x="875" y="596" width="1" height="43" fill="#c0c0c0"/>
<rect x="883" y="596" width="1" height="42" fill="#c0c0c0"/>
<rect x="891" y="596" width="1" height="45" fill="#c0c0c0"/>
<rect x="899" y="596" width="1" height="41" fill="#c0c0c0"/>
<rect x="907" y="596" width="1" height="39" fill="#c0c0c0"/>
<rect x="915" y="596" width="1" height="39" fill="#c0c0c0"/>
<rect x="923" y="596" width="1" height="38" fill="#c0c0c0"/>
<rect x="931" y="596" width="1" height="38" fill="#c0c0c0"/>
<rect x="939" y="596" width="1" height="37" fill="#c0c0c0"/>
<rect x="947" y="596" width="1" height="38" fill="#c0c0c0"/>
<rect x="955" y="596" width="1" height="33" fill="#c0c0c0"/>
<rect x="963" y="596" width="1" height="26" fill="#c0c0c0"/>
<rect x="971" y="596" width="1" height="19" fill="#c0c0c0"/>
<rect x="979" y="596" width="1" height="10" fill="#c0c0c0"/>
<rect x="987" y="596" width="1" height="2" fill="#c0c0c0"/>
<rect x="995" y="592" width="1" height="5" fill="#c0c0c0"/>
<rect x="1003" y="587" width="1" height="10" fill="#c0c0c0"/>
<rect x="1011" y="582" width="1" height="15" fill="#c0c0c0"/>
<rect x="1019" y="579" width="1" height="18" fill="#c0c0c0"/>
<rect x="1027" y="575" width="1" height="22" fill="#c0c0c0"/>
<rect x="1035" y="573" width="1" height="24" fill="#c0c0c0"/>
<rect x="1043" y="573" width="1" height="24" fill="#c0c0c0"/>
<rect x="1051" y="572" width="1" height="25" fill="#c0c0c0"/>
<rect x="1059" y="576" width="1" height="21" fill="#c0c0c0"/>
<rect x="1067" y="582" width="1" height="15" fill="#c0c0c0"/>
<rect x="1075" y="590" width="1" height="7" fill="#c0c0c0"/>
<rect x="1083" y="596" width="1" height="1" fill="#c0c0c0"/>
<rect x="1091" y="596" width="1" height="2" fill="#c0c0c0"/>
<rect x="1099" y="596" width="1" height="3" fill="#c0c0c0"/>
<rect x="1107" y="596" width="1" height="8" fill="#c0c0c0"/>
<rect x="1115" y="596" width="1" height="12" fill="#c0c0c0"/>
<polyline points="3.0,585.3 10.9,583.5 22.4,580.5 35.0,579.3 41.1,578.1 46.5,578.7 52.0,580.5 58.6,582.9 67.0,588.5 75.0,592.7 83.0,597.0 91.0,601.5 99.0,606.1 107.0,611.0 115.0,615.6 123.0,619.4 131.0,622.3 139.0,624.6 147.0,626.6 155.0,628.4 163.0,630.0 171.0,631.1 179.0,632.1 187.0,633.2 195.0,634.2 203.0,635.5 211.0,637.5 219.0,639.6 227.0,641.4 235.0,643.3 243.0,645.5 251.0,647.1 259.0,647.8 267.0,647.7 275.0,646.8 283.0,644.8 291.0,642.6 299.0,640.4 307.0,637.7 315.0,634.6 323.0,630.8 331.0,626.9 339.0,623.2 347.0,619.3 355.0,615.3 363.0,611.2 371.0,607.4 379.0,604.1 387.0,601.2 395.0,599.5 403.0,599.5 411.0,600.3 419.0,602.2 427.0,604.7 435.0,607.7 443.0,610.2 451.0,612.3 459.0,613.7 467.0,614.0 475.0,613.0 483.0,611.3 491.0,608.2 499.0,604.2 507.0,599.5 515.0,595.4 523.0,591.7 531.0,588.0 539.0,584.7 547.0,582.1 555.0,579.9 563.0,578.9 571.0,579.3 579.0,580.5 587.0,581.5 595.0,582.2 603.0,582.8 611.0,583.5 619.0,583.8 627.0,583.9 635.0,583.2 643.0,581.6 651.0,579.6 659.0,577.7 667.0,576.8 675.0,576.7 683.0,577.7 691.0,579.7 699.0,582.5 707.0,586.4 715.0,591.3 723.0,597.1 731.0,603.9 739.0,611.1 747.0,618.4 755.0,625.7 763.0,632.6 771.0,639.2 779.0,644.8 787.0,649.3 795.0,653.0 803.0,655.7 811.0,657.1 819.0,657.9 827.0,657.7 835.0,656.5 843.0,654.7 851.0,653.1 859.0,651.4 867.0,649.4 875.0,647.2 883.0,645.3 891.0,643.7 899.0,642.0 907.0,640.3 915.0,639.1 923.0,637.8 931.0,636.8 939.0,636.0 947.0,635.5 955.0,634.5 963.0,632.4 971.0,630.0 979.0,626.8 987.0,622.6 995.0,618.0 1003.0,612.8 1011.0,607.1 1019.0,601.0 1027.0,595.1 1035.0,589.7 1043.0,585.0 1051.0,581.2 1059.0,578.8 1067.0,577.7 1075.0,578.0 1083.0,579.6 1091.0,581.6 1099.0,584.3 1107.0,587.7 1115.0,591.5" fill="none" stroke="#ff0000" stroke-width="1" stroke-dasharray="3,3" shape-rendering="crispEdges"/>
<rect x="451" y="567" width="1" height="5" fill="#ff0000"/>
</g>
<text x="7" y="578" font-size="10.2" fill="#000" stroke="#000" stroke-width="0.15" textLength="150.50" lengthAdjust="spacingAndGlyphs" >MACD(12,26,9) -0.001069 0.000395</text>
<rect x="1419" y="566" width="2" height="1" fill="#000"/><rect x="1419" y="596" width="2" height="1" fill="#000"/>
<text x="1422" y="576" font-size="10.2" fill="#000" stroke="#000" stroke-width="0.15" textLength="38.16" lengthAdjust="spacingAndGlyphs" >0.002574</text>
<text x="1423" y="600" font-size="10.2" fill="#000" stroke="#000" stroke-width="0.15" textLength="17.81" lengthAdjust="spacingAndGlyphs" >0.00</text>
<text x="1420" y="665" font-size="10.2" fill="#000" stroke="#000" stroke-width="0.15" textLength="41.21" lengthAdjust="spacingAndGlyphs" >-0.006320</text>
<g clip-path="url(#crsi)">
<line x1="3" y1="710.5" x2="1418" y2="710.5" stroke="#c0c0c0" stroke-dasharray="3,3" shape-rendering="crispEdges"/>
<line x1="3" y1="761.5" x2="1418" y2="761.5" stroke="#c0c0c0" stroke-dasharray="3,3" shape-rendering="crispEdges"/>
<polyline points="3,726.3 11,724.3 19,731.2 27,731.2 35,735.4 43,742.8 51,756.8 59,756.4 67,750.7 75,749.0 83,746.5 91,747.7 99,753.4 107,756.8 115,750.7 123,756.8 131,752.2 139,748.5 147,750.2 155,751.4 163,748.5 171,751.4 179,757.1 187,758.8 195,760.8 203,765.0 211,768.2 219,756.8 227,752.7 235,756.8 243,758.3 251,752.7 259,743.5 267,744.5 275,746.0 283,744.5 291,746.0 299,749.4 307,739.6 315,741.6 323,730.5 331,726.7 339,732.2 347,731.2 355,724.8 363,728.0 371,736.1 379,736.6 387,742.8 395,746.5 403,755.1 411,751.4 419,756.4 427,747.7 435,746.5 443,737.1 451,736.1 459,732.2 467,728.5 475,729.7 483,724.8 491,720.6 499,717.4 507,717.4 515,733.7 523,728.0 531,721.3 539,722.3 547,733.7 555,733.7 563,735.4 571,744.0 579,737.1 587,734.2 595,725.5 603,726.3 611,723.0 619,728.0 627,730.4 635,720.6 643,726.3 651,726.3 659,729.2 667,736.6 675,741.1 683,745.3 691,752.2 699,752.2 707,753.6 715,756.8 723,761.3 731,766.2 739,766.2 747,767.5 755,770.4 763,770.4 771,770.4 779,753.4 787,756.4 795,758.3 803,761.3 811,749.4 819,756.4 827,751.4 835,748.5 843,748.5 851,753.4 859,749.0 867,745.3 875,750.2 883,751.4 891,757.6 899,742.3 907,745.3 915,747.7 923,748.5 931,749.4 939,750.2 947,752.2 955,739.1 963,731.7 971,729.2 979,722.3 987,723.5 995,720.6 1003,721.3 1011,718.5 1019,722.4 1027,719.3 1035,719.3 1043,725.4 1051,724.2 1059,735.9 1067,743.1 1075,749.3 1083,747.3 1091,746.2 1099,739.6 1107,748.2 1115,749.6" fill="none" stroke="#1e90ff" stroke-width="1" shape-rendering="crispEdges"/>
</g>
<text x="7" y="683" font-size="10.2" fill="#000" stroke="#000" stroke-width="0.15" textLength="67.40" lengthAdjust="spacingAndGlyphs" >RSI(14) 39.2268</text>
<text x="1422" y="680.5" font-size="10.2" fill="#000" stroke="#000" stroke-width="0.15" textLength="15.26" lengthAdjust="spacingAndGlyphs" >100</text>
<text x="1422" y="713.5" font-size="10.2" fill="#000" stroke="#000" stroke-width="0.15" textLength="10.18" lengthAdjust="spacingAndGlyphs" >70</text>
<text x="1422" y="764.5" font-size="10.2" fill="#000" stroke="#000" stroke-width="0.15" textLength="10.18" lengthAdjust="spacingAndGlyphs" >30</text>
<text x="1422" y="796.5" font-size="10.2" fill="#000" stroke="#000" stroke-width="0.15" textLength="5.09" lengthAdjust="spacingAndGlyphs" >0</text>
<rect x="1419" y="671" width="3" height="1" fill="#000"/>
<rect x="3" y="801" width="1" height="3" fill="#000"/>
<text x="3" y="813" font-size="10.2" fill="#000" stroke="#000" stroke-width="0.15" textLength="49.35" lengthAdjust="spacingAndGlyphs" >16 Apr 2019</text>
<rect x="67" y="801" width="1" height="3" fill="#000"/>
<text x="67" y="813" font-size="10.2" fill="#000" stroke="#000" stroke-width="0.15" textLength="49.35" lengthAdjust="spacingAndGlyphs" >26 Apr 2019</text>
<rect x="131" y="801" width="1" height="3" fill="#000"/>
<text x="131" y="813" font-size="10.2" fill="#000" stroke="#000" stroke-width="0.15" textLength="47.81" lengthAdjust="spacingAndGlyphs" >6 May 2019</text>
<rect x="195" y="801" width="1" height="3" fill="#000"/>
<text x="195" y="813" font-size="10.2" fill="#000" stroke="#000" stroke-width="0.15" textLength="52.90" lengthAdjust="spacingAndGlyphs" >15 May 2019</text>
<rect x="259" y="801" width="1" height="3" fill="#000"/>
<text x="259" y="813" font-size="10.2" fill="#000" stroke="#000" stroke-width="0.15" textLength="52.90" lengthAdjust="spacingAndGlyphs" >24 May 2019</text>
<rect x="323" y="801" width="1" height="3" fill="#000"/>
<text x="323" y="813" font-size="10.2" fill="#000" stroke="#000" stroke-width="0.15" textLength="45.28" lengthAdjust="spacingAndGlyphs" >3 Jun 2019</text>
<rect x="387" y="801" width="1" height="3" fill="#000"/>
<text x="387" y="813" font-size="10.2" fill="#000" stroke="#000" stroke-width="0.15" textLength="50.37" lengthAdjust="spacingAndGlyphs" >12 Jun 2019</text>
<rect x="451" y="801" width="1" height="3" fill="#000"/>
<text x="451" y="813" font-size="10.2" fill="#000" stroke="#000" stroke-width="0.15" textLength="50.37" lengthAdjust="spacingAndGlyphs" >21 Jun 2019</text>
<rect x="515" y="801" width="1" height="3" fill="#000"/>
<text x="515" y="813" font-size="10.2" fill="#000" stroke="#000" stroke-width="0.15" textLength="42.22" lengthAdjust="spacingAndGlyphs" >1 Jul 2019</text>
<rect x="579" y="801" width="1" height="3" fill="#000"/>
<text x="579" y="813" font-size="10.2" fill="#000" stroke="#000" stroke-width="0.15" textLength="47.31" lengthAdjust="spacingAndGlyphs" >10 Jul 2019</text>
<rect x="643" y="801" width="1" height="3" fill="#000"/>
<text x="643" y="813" font-size="10.2" fill="#000" stroke="#000" stroke-width="0.15" textLength="47.31" lengthAdjust="spacingAndGlyphs" >19 Jul 2019</text>
<rect x="707" y="801" width="1" height="3" fill="#000"/>
<text x="707" y="813" font-size="10.2" fill="#000" stroke="#000" stroke-width="0.15" textLength="47.31" lengthAdjust="spacingAndGlyphs" >29 Jul 2019</text>
<rect x="771" y="801" width="1" height="3" fill="#000"/>
<text x="771" y="813" font-size="10.2" fill="#000" stroke="#000" stroke-width="0.15" textLength="46.30" lengthAdjust="spacingAndGlyphs" >7 Aug 2019</text>
<rect x="835" y="801" width="1" height="3" fill="#000"/>
<text x="835" y="813" font-size="10.2" fill="#000" stroke="#000" stroke-width="0.15" textLength="51.39" lengthAdjust="spacingAndGlyphs" >16 Aug 2019</text>
<rect x="899" y="801" width="1" height="3" fill="#000"/>
<text x="899" y="813" font-size="10.2" fill="#000" stroke="#000" stroke-width="0.15" textLength="51.39" lengthAdjust="spacingAndGlyphs" >26 Aug 2019</text>
<rect x="963" y="801" width="1" height="3" fill="#000"/>
<text x="963" y="813" font-size="10.2" fill="#000" stroke="#000" stroke-width="0.15" textLength="46.81" lengthAdjust="spacingAndGlyphs" >4 Sep 2019</text>
<rect x="1027" y="801" width="1" height="3" fill="#000"/>
<text x="1027" y="813" font-size="10.2" fill="#000" stroke="#000" stroke-width="0.15" textLength="51.89" lengthAdjust="spacingAndGlyphs" >13 Sep 2019</text>
<rect x="1091" y="801" width="1" height="3" fill="#000"/>
<text x="1091" y="813" font-size="10.2" fill="#000" stroke="#000" stroke-width="0.15" textLength="51.89" lengthAdjust="spacingAndGlyphs" >23 Sep 2019</text>
<rect x="0" y="821" width="1459" height="1" fill="#e3e3e3"/>
<rect x="0" y="823" width="1459" height="21" fill="#f0f0f0"/>
<rect x="0" y="823" width="1459" height="1" fill="#000"/>
<path d="M112.5,823 V841.5 H219.5 V823" fill="#fff" stroke="#000"/>
<rect x="113" y="822" width="106" height="2" fill="#fff"/>
<text x="15" y="838" font-size="12" fill="#6e6e6e" textLength="85" lengthAdjust="spacingAndGlyphs">EURUSD-,Daily</text>
<text x="122" y="838" font-size="12" fill="#000" textLength="86.5" lengthAdjust="spacingAndGlyphs">AUDUSD-,Daily</text>
<text x="232" y="838" font-size="12" fill="#6e6e6e" textLength="84" lengthAdjust="spacingAndGlyphs">USDCHF-,Daily</text>
<text x="339" y="838" font-size="12" fill="#6e6e6e" textLength="86" lengthAdjust="spacingAndGlyphs">USDCAD-,Daily</text>
<text x="448" y="838" font-size="12" fill="#6e6e6e" textLength="88" lengthAdjust="spacingAndGlyphs">USDCNH-,Daily</text>
<text x="559.3" y="838" font-size="12" fill="#6e6e6e" textLength="96.5" lengthAdjust="spacingAndGlyphs">EURCHF-,Weekly</text>
<text x="679" y="838" font-size="12" fill="#6e6e6e" textLength="86" lengthAdjust="spacingAndGlyphs">XAUUSD-,Daily</text>
<text x="787" y="838" font-size="12" fill="#6e6e6e" textLength="72.5" lengthAdjust="spacingAndGlyphs">GBPUSD-,H1</text>
<text x="883" y="838" font-size="12" fill="#6e6e6e" textLength="57" lengthAdjust="spacingAndGlyphs">UKOil-,H1</text>
<text x="962.3" y="838" font-size="12" fill="#6e6e6e" textLength="82.3" lengthAdjust="spacingAndGlyphs">USDX-,Weekly</text>
<text x="1067.3" y="838" font-size="12" fill="#6e6e6e" textLength="96.5" lengthAdjust="spacingAndGlyphs">EURCHF-,Weekly</text>
<rect x="328" y="827" width="1" height="12" fill="#707070"/>
<rect x="437" y="827" width="1" height="12" fill="#707070"/>
<rect x="548" y="827" width="1" height="12" fill="#707070"/>
<rect x="668" y="827" width="1" height="12" fill="#707070"/>
<rect x="776" y="827" width="1" height="12" fill="#707070"/>
<rect x="872" y="827" width="1" height="12" fill="#707070"/>
<rect x="952" y="827" width="1" height="12" fill="#707070"/>
<rect x="1056" y="827" width="1" height="12" fill="#707070"/>
<rect x="1176" y="827" width="1" height="12" fill="#707070"/>
<path d="M1433.5,832 L1437.5,828.5 L1437.5,835.5 Z" fill="#999"/>
<path d="M1456.5,832 L1452.5,828.5 L1452.5,835.5 Z" fill="#999"/>
<rect x="0" y="843" width="1459" height="1" fill="#fafafa"/>
</svg></body></html>
